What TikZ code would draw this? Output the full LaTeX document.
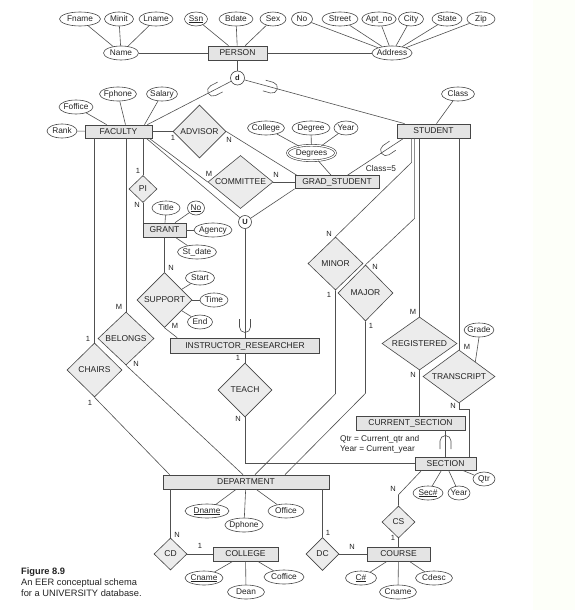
\documentclass[tikz,border=0pt]{standalone}
\usepackage{fontspec}
\setmainfont{Liberation Sans}
\usetikzlibrary{shapes.geometric,calc}
\definecolor{linec}{RGB}{80,80,80}
\definecolor{boxc}{RGB}{70,70,70}
\definecolor{entfill}{RGB}{228,228,228}
\definecolor{relfill}{RGB}{236,236,236}
\definecolor{palebg}{RGB}{253,255,249}
\definecolor{txt}{RGB}{35,35,35}
\newcommand\mysubsetmark[2]{\begin{scope}[shift={#1},rotate=#2]\draw[conn] (-5.5pt,8pt) -- (-5.5pt,0pt) arc[start angle=180,end angle=360,radius=5.5pt] -- (5.5pt,8pt);\end{scope}}
\begin{document}
\begin{tikzpicture}[x=1pt,y=-1pt,
 conn/.style={draw=linec, line width=0.6pt},
 ent/.style={rectangle, draw=boxc, fill=entfill, line width=0.75pt, minimum height=14, inner sep=0pt, text=txt, text height=6.1pt, text depth=0.3pt, font=\fontsize{8.5}{9}\selectfont},
 rel/.style={diamond, draw=boxc, fill=relfill, line width=0.6pt, inner sep=0pt, aspect=1.3, text=txt, text height=6.1pt, text depth=0.3pt, font=\fontsize{8.5}{9}\selectfont},
 attr/.style={ellipse, draw=boxc, fill=white, line width=0.6pt, inner xsep=-1pt, inner ysep=0pt, minimum height=14, text=txt, text height=6pt, text depth=1.7pt, font=\fontsize{8.3}{9}\selectfont},
 card/.style={font=\fontsize{7.5}{8}\selectfont, inner sep=0pt, text=txt},
 circ/.style={circle, draw=boxc, fill=white, line width=0.6pt, inner sep=0pt, text=txt, font=\bfseries\fontsize{7.5}{8}\selectfont},
]
\useasboundingbox (0,0) rectangle (575,610);
\fill[palebg] (533,0) rectangle (575,610);

% ---- top attributes
\node[attr,minimum width=41] (Fname) at (80,19) {Fname};
\node[attr,minimum width=29] (Minit) at (119,19) {Minit};
\node[attr,minimum width=34] (Lname) at (156,19) {Lname};
\node[attr,minimum width=23] (Ssn) at (196,19) {\underline{Ssn}};
\node[attr,minimum width=34] (Bdate) at (236,19) {Bdate};
\node[attr,minimum width=26] (Sex) at (273,19) {Sex};
\node[attr,minimum width=21] (No) at (302,19) {No};
\node[attr,minimum width=36] (Street) at (340,19) {Street};
\node[attr,minimum width=33] (Aptno) at (379,19) {Apt\_no};
\node[attr,minimum width=25] (City) at (411,19) {City};
\node[attr,minimum width=30] (State) at (447,19) {State};
\node[attr,minimum width=28] (Zip) at (481,19) {Zip};
\node[attr,minimum width=35] (Name) at (121,53) {Name};
\node[ent,minimum width=59] (PERSON) at (237.5,53) {PERSON};
\node[attr,minimum width=40] (Address) at (392,53) {Address};

% ---- entities
\node[ent,minimum width=67,minimum height=13] (FACULTY) at (118.5,131.5) {FACULTY};
\node[ent,minimum width=73] (STUDENT) at (433.5,131) {STUDENT};
\node[ent,minimum width=84,minimum height=13] (GRAD) at (337,182) {GRAD\_STUDENT};
\node[ent,minimum width=43] (GRANT) at (164.5,230) {GRANT};
\node[ent,minimum width=149,minimum height=15] (IR) at (245,345.5) {INSTRUCTOR\_RESEARCHER};
\node[ent,minimum width=109] (CURSEC) at (410.5,423) {CURRENT\_SECTION};
\node[ent,minimum width=61,minimum height=13] (SECTION) at (445.5,463.5) {SECTION};
\node[ent,minimum width=166] (DEPT) at (246,482) {DEPARTMENT};
\node[ent,minimum width=65] (COLLEGE) at (245.5,554) {COLLEGE};
\node[ent,minimum width=63] (COURSE) at (398.5,554) {COURSE};

% ---- relationships
\node[rel,minimum width=53,minimum height=53] (ADVISOR) at (199.5,131.5) {ADVISOR};
\node[rel,minimum width=65,minimum height=53] (COMMITTEE) at (240.5,182) {COMMITTEE};
\node[rel,minimum width=28,minimum height=27] (PI) at (143,189) {PI};
\node[rel,minimum width=55,minimum height=55] (SUPPORT) at (164.5,300) {SUPPORT};
\node[rel,minimum width=56,minimum height=53] (BELONGS) at (126,338.5) {BELONGS};
\node[rel,minimum width=55,minimum height=54] (CHAIRS) at (94.5,370) {CHAIRS};
\node[rel,minimum width=54,minimum height=54] (TEACH) at (245,390) {TEACH};
\node[rel,minimum width=55,minimum height=53] (MINOR) at (335.5,263.5) {MINOR};
\node[rel,minimum width=55,minimum height=56] (MAJOR) at (365.5,293) {MAJOR};
\node[rel,minimum width=75,minimum height=53] (REG) at (419.5,343.5) {REGISTERED};
\node[rel,minimum width=72,minimum height=53] (TRANS) at (459,376.5) {TRANSCRIPT};
\node[rel,minimum width=33,minimum height=32] (CD) at (170.5,554) {CD};
\node[rel,minimum width=33,minimum height=33] (DC) at (322.5,554) {DC};
\node[rel,minimum width=33,minimum height=32] (CS) at (398.5,522) {CS};

% ---- circles
\node[circ,minimum size=14] (d) at (237.5,78) {d};
\node[circ,minimum size=13] (U) at (245,222) {U};

% ---- other attributes
\node[attr,minimum width=35] (Fphone) at (118,94) {Fphone};
\node[attr,minimum width=31] (Salary) at (162,94) {Salary};
\node[attr,minimum width=34] (Foffice) at (76,107) {Foffice};
\node[attr,minimum width=30] (Rank) at (62,131) {Rank};
\node[attr,minimum width=33] (Class) at (458,94) {Class};
\node[attr,minimum width=35] (College) at (266,128) {College};
\node[attr,minimum width=38] (Degree) at (311,128) {Degree};
\node[attr,minimum width=24] (YearG) at (346,128) {Year};
\node[attr,double,double distance=1.2pt,minimum width=48,minimum height=15.5] (Degrees) at (311.5,153) {Degrees};
\node[attr,minimum width=28] (Title) at (166,208) {Title};
\node[attr,minimum width=17] (NoG) at (196,208) {\underline{No}};
\node[attr,minimum width=38] (Agency) at (213,230) {Agency};
\node[attr,minimum width=39] (Stdate) at (197,252) {St\_date};
\node[attr,minimum width=29] (Start) at (200,278) {Start};
\node[attr,minimum width=28] (Time) at (214,300) {Time};
\node[attr,minimum width=25] (End) at (200,322) {End};
\node[attr,minimum width=27] (Grade) at (479,330) {Grade};
\node[attr,minimum width=44] (Dname) at (207,511) {\underline{Dname}};
\node[attr,minimum width=35] (Dphone) at (244,525) {Dphone};
\node[attr,minimum width=36] (Office) at (286,511) {Office};
\node[attr,minimum width=38] (Cname) at (204,578) {\underline{Cname}};
\node[attr,minimum width=37] (Dean) at (246,592) {Dean};
\node[attr,minimum width=40] (Coffice) at (284,577) {Coffice};
\node[attr,minimum width=31] (Cnum) at (361,578) {\underline{C\#}};
\node[attr,minimum width=37] (CnameC) at (398,592) {Cname};
\node[attr,minimum width=37] (Cdesc) at (434,578) {Cdesc};
\node[attr,minimum width=30] (Secnum) at (428,493) {\underline{Sec\#}};
\node[attr,minimum width=22] (YearS) at (459,493) {Year};
\node[attr,minimum width=22] (Qtr) at (484,479) {Qtr};

% ---- texts
\node[font=\fontsize{8.3}{9}\selectfont, text=txt, inner sep=0pt] (cls) at (381,169) {Class=5};
\node[anchor=west, align=left, inner sep=0pt, text=txt, font=\fontsize{8.3}{10.5}\selectfont] (qnote) at (340,444.5) {Qtr = Current\_qtr and\\Year = Current\_year};
\node[anchor=north west, align=left, inner sep=0pt, text=txt, font=\fontsize{9.3}{11}\selectfont] (cap) at (21,568) {\textbf{Figure 8.9}\\An EER conceptual schema\\for a UNIVERSITY database.};

% ---- connectors
\draw[conn] (Fname) -- (Name);
\draw[conn] (Minit) -- (Name);
\draw[conn] (Lname) -- (Name);
\draw[conn] (Name) -- (PERSON);
\draw[conn] (PERSON) -- (Address);
\draw[conn] (Ssn) -- (PERSON);
\draw[conn] (Bdate) -- (PERSON);
\draw[conn] (Sex) -- (PERSON);
\foreach \a in {No,Street,Aptno,City,State,Zip} \draw[conn] (\a) -- (Address);
\draw[conn] (PERSON) -- (d);
\draw[conn] (d) -- ([xshift=-5pt]FACULTY.north east);
\draw[conn] (d) -- ([xshift=8pt]STUDENT.north west);
\draw[conn] (Fphone) -- ([xshift=7pt]FACULTY.north);
\draw[conn] (Salary) -- ([xshift=26pt]FACULTY.north);
\draw[conn] (Foffice) -- (FACULTY);
\draw[conn] (Rank) -- (FACULTY);
\draw[conn] (Class) -- ([xshift=3pt]STUDENT.north);
\draw[conn] (FACULTY.east) -- (ADVISOR.west);
\draw[conn] (ADVISOR.east) -- ([xshift=2pt]GRAD.north west);
\draw[conn] ([xshift=-3pt]FACULTY.south east) -- (COMMITTEE.west);
\draw[conn] (COMMITTEE.east) -- (GRAD.west);
\draw[conn] ([xshift=-6pt]FACULTY.south east) -- (U);
\draw[conn] (GRAD.south west) -- (U);
\draw[conn] (U) -- (U |- IR.north);
\draw[conn] (College) -- (Degrees);
\draw[conn] (Degree) -- (Degrees);
\draw[conn] (YearG) -- (Degrees);
\draw[conn] (Degrees) -- (GRAD);
\draw[conn] ([xshift=53pt]GRAD.north west) -- ([xshift=7pt]STUDENT.south west);
\draw[conn] (PI.north |- FACULTY.south) -- (PI.north);
\draw[conn] (PI.south) -- (PI.south |- GRANT.north);
\draw[conn] (Title) -- (GRANT);
\draw[conn] (NoG) -- (GRANT);
\draw[conn] (Agency) -- (GRANT);
\draw[conn] (Stdate) -- (GRANT);
\draw[conn] (GRANT.south) -- (SUPPORT.north);
\draw[conn] (Start) -- (SUPPORT);
\draw[conn] (Time) -- (SUPPORT);
\draw[conn] (End) -- (SUPPORT);
\draw[conn] (SUPPORT.south) -- ([xshift=7pt]IR.north west);
\draw[conn] (BELONGS.north |- FACULTY.south) -- (BELONGS.north);
\draw[conn] (BELONGS.south) -- ([xshift=-3pt]DEPT.north);
\draw[conn] (CHAIRS.north |- FACULTY.south) -- (CHAIRS.north);
\draw[conn] (CHAIRS.south) -- ([xshift=7pt]DEPT.north west);
\draw[conn] (IR.south -| TEACH.north) -- (TEACH.north);
\draw[conn] (TEACH.south) |- (SECTION.west);
\draw[conn] ([xshift=15pt]STUDENT.south west) -- ++(0,24) -- (MINOR.north);
\draw[conn] ([xshift=18pt]STUDENT.south west) -- ++(0,80) -- (MAJOR.north);
\draw[conn] (MINOR.south) -- ++(0,103.5) -- ([xshift=9pt]DEPT.north);
\draw[conn] (MAJOR.south) -- ++(0,72) -- ([xshift=39pt]DEPT.north);
\draw[conn] (REG.north |- STUDENT.south) -- (REG.north);
\draw[conn] (REG.south) -- (REG.south |- CURSEC.north);
\draw[conn] (TRANS.north |- STUDENT.south) -- (TRANS.north);
\draw[conn] (Grade.south) -- ($(TRANS.north)!0.45!(TRANS.east)$);
\draw[conn] (TRANS.south) -- ++(0,6) -| ([xshift=-7pt]SECTION.north east);
\draw[conn] (SECTION.north) -- (SECTION.north |- CURSEC.south);
\draw[conn] (Secnum) -- (SECTION);
\draw[conn] (YearS) -- (SECTION);
\draw[conn] (Qtr) -- (SECTION);
\draw[conn] (CS.north) -- ++(0,-11) -- ([xshift=7pt]SECTION.south west);
\draw[conn] (CS.south) -- (COURSE.north);
\draw[conn] (DC.north |- DEPT.south) -- (DC.north);
\draw[conn] (DC.east) -- (COURSE.west);
\draw[conn] (CD.north |- DEPT.south) -- (CD.north);
\draw[conn] (CD.east) -- (COLLEGE.west);
\draw[conn] (Dname) -- (DEPT);
\draw[conn] (Dphone) -- (DEPT);
\draw[conn] (Office) -- (DEPT);
\draw[conn] (Cname) -- (COLLEGE);
\draw[conn] (Dean) -- (COLLEGE);
\draw[conn] (Coffice) -- (COLLEGE);
\draw[conn] (Cnum) -- (COURSE);
\draw[conn] (CnameC) -- (COURSE);
\draw[conn] (Cdesc) -- (COURSE);

% ---- subset symbols
\mysubsetmark{(213,90.7)}{-62.6}
\mysubsetmark{(272,87.7)}{74.3}
\mysubsetmark{(386,150.2)}{-55.8}
\mysubsetmark{(245,327)}{0}
\mysubsetmark{(445.5,441)}{180}

% ---- cardinalities
\node[card] (c1) at (173,138) {1};
\node[card] (c2) at (229,140) {N};
\node[card] (c3) at (209,174) {M};
\node[card] (c4) at (276,175) {N};
\node[card] (c5) at (138,171) {1};
\node[card] (c6) at (137,205) {N};
\node[card] (c7) at (171,268) {N};
\node[card] (c8) at (175,326) {M};
\node[card] (c9) at (119,307) {M};
\node[card] (c10) at (136,364) {N};
\node[card] (c11) at (88,339) {1};
\node[card] (c12) at (90,403) {1};
\node[card] (c13) at (238,358) {1};
\node[card] (c14) at (238,419) {N};
\node[card] (c15) at (329,234) {N};
\node[card] (c16) at (329,295) {1};
\node[card] (c17) at (375,267) {N};
\node[card] (c18) at (371,326) {1};
\node[card] (c19) at (413,312) {M};
\node[card] (c20) at (413,375) {N};
\node[card] (c21) at (467,347) {M};
\node[card] (c22) at (453,406) {N};
\node[card] (c23) at (393,489) {N};
\node[card] (c24) at (393,538) {1};
\node[card] (c25) at (177,535) {N};
\node[card] (c26) at (200,546) {1};
\node[card] (c27) at (328,533) {1};
\node[card] (c28) at (352,547) {N};
\end{tikzpicture}
\end{document}
